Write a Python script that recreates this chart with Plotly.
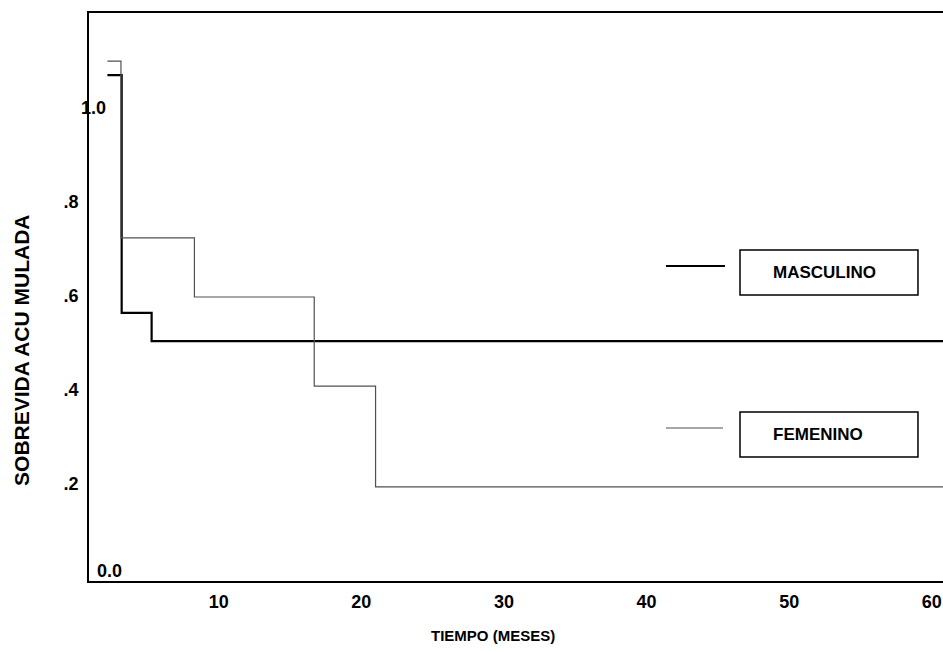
import plotly.graph_objects as go

# Kaplan-Meier step data
masc_t = [2.2, 3.2, 3.2, 5.3, 5.3, 60.8]
masc_s = [1.07, 1.07, 0.563, 0.563, 0.503, 0.503]

fem_t = [2.2, 3.15, 3.15, 8.3, 8.3, 16.7, 16.7, 21.0, 21.0, 60.8]
fem_s = [1.10, 1.10, 0.723, 0.723, 0.597, 0.597, 0.407, 0.407, 0.192, 0.192]

x_ticks = [10, 20, 30, 40, 50, 60]
y_ticks = [0.2, 0.4, 0.6, 0.8]
y_ticktext = [".2", ".4", ".6", ".8"]

FONT = "Liberation Sans"

fig = go.Figure()
fig.add_trace(go.Scatter(x=masc_t, y=masc_s, mode="lines",
                         line=dict(color="black", width=2.2), name="MASCULINO",
                         showlegend=False))
fig.add_trace(go.Scatter(x=fem_t, y=fem_s, mode="lines",
                         line=dict(color="#505050", width=1.2), name="FEMENINO",
                         showlegend=False))

fig.update_layout(
    width=943, height=652,
    margin=dict(l=89, r=0, t=13, b=71),
    plot_bgcolor="white", paper_bgcolor="white",
    font=dict(family=FONT, size=18, color="black"),
    xaxis=dict(range=[0.91, 60.78], tickvals=x_ticks, showgrid=False, zeroline=False,
               showline=True, linecolor="black", linewidth=2, mirror=True,
               ticks="", ticklabelstandoff=3, ticklabeloverflow="allow",
               tickfont=dict(family=FONT, size=18, color="black", weight="bold")),
    yaxis=dict(range=[-0.0085, 1.2026], tickvals=y_ticks, ticktext=y_ticktext,
               showgrid=False, zeroline=False, showline=True, linecolor="black", linewidth=2,
               ticks="", ticklabelstandoff=5,
               tickfont=dict(family=FONT, size=18, color="black", weight="bold")),
)

# axis titles
fig.add_annotation(x=-0.0785, y=0.4067, xref="paper", yref="paper",
                   text="<b>SOBREVIDA ACU MULADA</b>", textangle=-90, showarrow=False,
                   xanchor="center", yanchor="middle", font=dict(size=21))
fig.add_annotation(x=0.473, y=-0.0968, xref="paper", yref="paper",
                   text="<b>TIEMPO (MESES)</b>", showarrow=False,
                   xanchor="center", yanchor="middle", font=dict(size=15))

# "1.0" and "0.0" labels (drawn over the axis / inside plot as in the original)
fig.add_annotation(x=0, y=1.0, xref="paper", yref="y", text="<b>1.0</b>",
                   showarrow=False, xanchor="left", yanchor="middle",
                   xshift=-10, font=dict(size=18))
fig.add_annotation(x=0.007, y=0.018, xref="paper", yref="paper", text="<b>0.0</b>",
                   showarrow=False, xanchor="left", yanchor="middle", font=dict(size=18))

# legend: line samples + boxed labels
fig.add_shape(type="line", xref="paper", yref="paper", x0=0.6756, x1=0.7447,
              y0=0.5546, y1=0.5546, line=dict(color="black", width=2))
fig.add_shape(type="rect", xref="paper", yref="paper", x0=0.7623, x1=0.9707,
              y0=0.5035, y1=0.5827, line=dict(color="black", width=1.5))
fig.add_annotation(x=0.7985, y=0.544, xref="paper", yref="paper", text="<b>MASCULINO</b>",
                   showarrow=False, xanchor="left", yanchor="middle", font=dict(size=17))

fig.add_shape(type="line", xref="paper", yref="paper", x0=0.6756, x1=0.7424,
              y0=0.2694, y1=0.2694, line=dict(color="#505050", width=1.2))
fig.add_shape(type="rect", xref="paper", yref="paper", x0=0.7623, x1=0.9707,
              y0=0.2183, y1=0.2975, line=dict(color="black", width=1.5))
fig.add_annotation(x=0.7985, y=0.2588, xref="paper", yref="paper", text="<b>FEMENINO</b>",
                   showarrow=False, xanchor="left", yanchor="middle", font=dict(size=17))

fig.write_html("out.html", config={"displayModeBar": False},
               post_script="document.body.style.margin='0';")
